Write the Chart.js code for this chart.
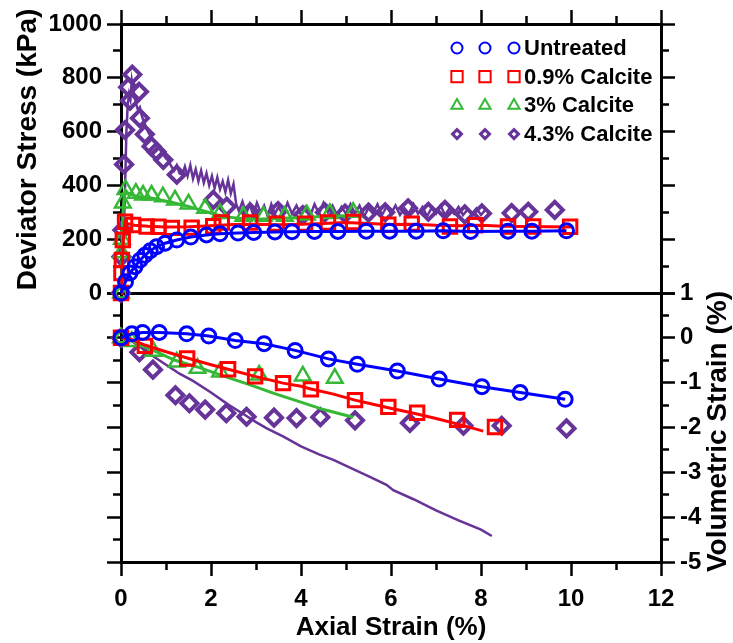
<!DOCTYPE html>
<html>
<head>
<meta charset="utf-8">
<script src="https://cdn.jsdelivr.net/npm/chart.js@4.4.1/dist/chart.umd.min.js"></script>
<style>
  html, body { margin: 0; padding: 0; background: #fff; }
  #wrap { width: 733px; height: 643px; position: relative; }
</style>
</head>
<body>
<div id="wrap"><canvas id="chart"></canvas></div>
<script>
// ---- series names and colours ----
const seriesNames = ['Untreated', '0.9% Calcite', '3% Calcite', '4.3% Calcite'];
const seriesColors = ['#0000FF', '#FF0000', '#35B835', '#663399'];

// ---- axis ticks ----
const strainMajorTicks = [0, 2, 4, 6, 8, 10, 12];
const strainMinorTicks = [1, 3, 5, 7, 9, 11];
const stressMajorTicks = [0, 200, 400, 600, 800, 1000];
const stressMinorTicks = [100, 300, 500, 700, 900];
const volMajorTicks = [-5, -4, -3, -2, -1, 0, 1];
const volMinorTicks = [-4.5, -3.5, -2.5, -1.5, -0.5, 0.5];

const axisTitles = { strain: 'Axial Strain (%)', stress: 'Deviator Stress (kPa)', vol: 'Volumetric Strain (%)' };

// ---- Untreated: [axial strain %, value] ----
const untreatedStress = [[0,0],[0.1,42],[0.2,74],[0.31,98],[0.42,122],[0.53,140],[0.65,157],[0.79,172],[0.98,185],[1.24,197],[1.55,208],[1.9,216],[2.2,220],[2.6,223],[2.95,225],[3.42,227],[3.8,228],[4.3,229],[4.82,229],[5.45,230],[5.97,230],[6.56,230],[7.16,231],[7.77,229],[8.6,230],[9.13,230],[9.9,231]];
const untreatedVol = [[0,0],[0.24,0.09],[0.48,0.12],[0.85,0.12],[1.46,0.09],[1.95,0.04],[2.54,-0.06],[3.18,-0.13],[3.87,-0.28],[4.61,-0.47],[5.25,-0.59],[6.14,-0.74],[7.07,-0.92],[8.02,-1.09],[8.87,-1.22],[9.87,-1.37]];

// ---- 0.9% Calcite ----
const calcite09StressCurve = [[0,0],[0.02,70],[0.04,150],[0.06,220],[0.09,265],[0.15,258],[0.3,252],[0.6,248],[1.0,245],[1.5,246],[2.0,250],[2.5,255],[3.0,256],[3.5,254],[4.0,256],[4.5,258],[5.0,262],[5.5,258],[6.0,255],[6.5,256],[7.0,252],[7.5,250],[8.0,252],[8.5,248],[9.0,247],[9.5,246],[10.0,245]];
const calcite09StressMarks = [[0,0],[0.01,74],[0.02,123],[0.04,197],[0.09,265],[0.27,253],[0.57,247],[0.83,246],[1.13,242],[1.57,243],[2.05,248],[2.24,262],[2.87,262],[3.46,258],[4.09,258],[4.6,262],[5.16,264],[5.94,254],[6.46,258],[7.31,247],[7.87,252],[8.6,247],[9.16,247],[9.98,246]];
const calcite09VolCurve = [[0,0],[0.25,-0.04],[0.53,-0.16],[1.0,-0.31],[1.47,-0.45],[2.0,-0.6],[2.38,-0.7],[2.98,-0.86],[3.6,-1.01],[4.0,-1.08],[4.22,-1.14],[4.7,-1.25],[5.2,-1.39],[5.6,-1.48],[5.94,-1.56],[6.58,-1.7],[7.0,-1.8],[7.47,-1.92],[8.05,-2.08]];
const calcite09VolMarks = [[0,0],[0.53,-0.18],[1.47,-0.46],[2.38,-0.7],[2.98,-0.86],[3.6,-1.01],[4.22,-1.15],[5.2,-1.39],[5.94,-1.54],[6.58,-1.67],[7.47,-1.83],[8.31,-1.99]];

// ---- 3% Calcite ----
const calcite3StressCurve = [[0,0],[0.02,150],[0.04,290],[0.07,360],[0.1,382],[0.15,372],[0.3,362],[0.5,356],[0.7,352],[0.9,345],[1.1,338],[1.3,330],[1.5,322],[1.7,312],[1.9,302],[2.1,292],[2.4,282],[2.7,276],[3.0,274],[3.3,276],[3.6,278],[3.9,280],[4.2,282],[4.5,285],[4.8,286],[5.16,288]];
const calcite3StressMarks = [[0,0],[0.01,150],[0.02,200],[0.04,335],[0.1,385],[0.33,371],[0.49,364],[0.68,364],[0.93,358],[1.2,346],[1.5,331],[1.87,315],[2.2,296],[2.72,285],[3.17,285],[3.64,285],[4.13,290],[4.64,296],[5.16,300]];
const calcite3VolCurve = [[0,0],[0.2,-0.04],[0.42,-0.16],[0.8,-0.32],[1.2,-0.5],[1.76,-0.67],[2.3,-0.86],[2.87,-1.05],[3.4,-1.24],[3.98,-1.43],[4.5,-1.6],[5.16,-1.77]];
const calcite3VolMarks = [[0,0],[0.24,-0.08],[0.72,-0.3],[1.24,-0.54],[1.7,-0.68],[2.2,-0.76],[3.07,-0.83],[4.04,-0.85],[4.75,-0.9]];

// ---- 4.3% Calcite ----
const calcite43StressCurve = [[0,0],[0.02,60],[0.04,140],[0.06,230],[0.08,330],[0.1,460],[0.12,600],[0.15,700],[0.18,740],[0.21,720],[0.24,790],[0.27,760],[0.3,730],[0.34,700],[0.38,680],[0.42,690],[0.46,660],[0.5,640],[0.55,620],[0.6,600],[0.65,585],[0.7,570],[0.76,560],[0.82,545],[0.88,530],[0.94,515],[1.0,500],[1.06,490],[1.12,470],[1.18,455],[1.24,475],[1.3,445],[1.36,440],[1.42,470],[1.48,435],[1.54,475],[1.6,425],[1.66,460],[1.72,415],[1.78,455],[1.84,410],[1.9,445],[1.96,400],[2.02,435],[2.08,390],[2.14,430],[2.2,385],[2.26,415],[2.32,375],[2.38,420],[2.44,370],[2.5,405],[2.56,330],[2.62,305],[2.7,340],[2.78,295],[2.86,330],[2.94,290],[3.02,335],[3.1,300],[3.18,325],[3.26,285],[3.34,330],[3.42,295],[3.5,320],[3.6,290],[3.7,335],[3.8,295],[3.9,325],[4.0,290],[4.1,320],[4.2,285],[4.3,330],[4.4,295],[4.5,335],[4.6,300],[4.7,325],[4.8,290],[4.9,320],[5.0,295],[5.1,330],[5.2,295],[5.3,325],[5.4,285],[5.5,315],[5.6,295],[5.7,330],[5.8,290],[5.9,320],[6.0,295],[6.1,325],[6.2,290],[6.3,315],[6.4,295],[6.5,330],[6.6,295],[6.7,320],[6.8,285],[6.9,315],[7.0,295],[7.1,325],[7.2,290],[7.3,315],[7.4,295],[7.5,320],[7.6,290],[7.7,310],[7.8,295],[7.9,315],[8.0,290],[8.1,310],[8.2,300]];
const calcite43StressMarks = [[0,0],[0.01,135],[0.03,234],[0.07,478],[0.09,606],[0.2,715],[0.16,765],[0.25,812],[0.4,748],[0.42,650],[0.53,590],[0.68,545],[0.79,525],[0.94,495],[1.24,440],[2.05,346],[2.35,321],[2.87,300],[3.49,305],[4.04,290],[4.53,300],[4.98,295],[5.5,299],[5.87,300],[6.38,315],[6.83,302],[7.2,309],[7.64,292],[8.02,296],[8.68,297],[9.05,302],[9.64,309]];
const calcite43VolCurve = [[0,0],[0.2,-0.05],[0.42,-0.2],[0.64,-0.36],[1.0,-0.6],[1.3,-0.8],[1.6,-0.96],[2.0,-1.22],[2.4,-1.5],[2.72,-1.7],[3.0,-1.88],[3.24,-2.02],[3.6,-2.2],[4.0,-2.42],[4.4,-2.6],[4.72,-2.72],[5.1,-2.9],[5.53,-3.1],[5.9,-3.28],[6.05,-3.4],[6.5,-3.6],[7.0,-3.85],[7.5,-4.07],[8.0,-4.28],[8.24,-4.42]];
const calcite43VolMarks = [[0,0],[0.41,-0.32],[0.71,-0.71],[1.21,-1.28],[1.52,-1.46],[1.87,-1.6],[2.34,-1.68],[2.79,-1.76],[3.4,-1.78],[3.9,-1.79],[4.43,-1.77],[5.2,-1.84],[6.42,-1.9],[7.61,-1.96],[8.46,-1.96],[9.9,-2.02]];

// ---- styling ----
const FONT = "'Liberation Sans', Arial, Helvetica, sans-serif";
const INK = '#000';
const CLEAR = 'rgba(0,0,0,0)';

const markerStyles = [
  { style: 'circle',   r: 7,   bw: 3,   legendR: 5.5, legendBw: 2 },
  { style: 'rect',     r: 9.5, bw: 3,   legendR: 8,   legendBw: 2 },
  { style: 'triangle', r: 9,   bw: 2.5, legendR: 6.5, legendBw: 2 },
  { style: 'rectRot',  r: 8,   bw: 4,   legendR: 4.5, legendBw: 3 }
];

const toXY = pairs => pairs.map(p => ({ x: p[0], y: p[1] }));

function curveSet(i, pairs, yAxisID, width) {
  return {
    label: seriesNames[i], data: toXY(pairs), xAxisID: 'x', yAxisID,
    borderColor: seriesColors[i], borderWidth: width, pointRadius: 0,
    fill: false, tension: 0, clip: false, showLine: true
  };
}
function markSet(i, pairs, yAxisID) {
  const m = markerStyles[i];
  return {
    label: seriesNames[i], data: toXY(pairs), xAxisID: 'x', yAxisID,
    showLine: false, pointStyle: m.style, pointRadius: m.r, pointBorderWidth: m.bw,
    pointBorderColor: seriesColors[i], pointBackgroundColor: CLEAR, clip: false
  };
}

// first entries draw on top
const datasets = [
  markSet(0, untreatedStress, 'yStress'), curveSet(0, untreatedStress, 'yStress', 3),
  markSet(0, untreatedVol, 'yVol'), curveSet(0, untreatedVol, 'yVol', 3),
  markSet(1, calcite09StressMarks, 'yStress'), curveSet(1, calcite09StressCurve, 'yStress', 3),
  markSet(1, calcite09VolMarks, 'yVol'), curveSet(1, calcite09VolCurve, 'yVol', 3),
  markSet(2, calcite3StressMarks, 'yStress'), curveSet(2, calcite3StressCurve, 'yStress', 3),
  markSet(2, calcite3VolMarks, 'yVol'), curveSet(2, calcite3VolCurve, 'yVol', 3),
  markSet(3, calcite43StressMarks, 'yStress'), curveSet(3, calcite43StressCurve, 'yStress', 2.5),
  markSet(3, calcite43VolMarks, 'yVol'), curveSet(3, calcite43VolCurve, 'yVol', 2.5)
];

// ---- axis frame helpers ----
const ticksAt = values => scale => { scale.ticks = values.map(v => ({ value: v })); };
const sizeTo = px => scale => { if (scale.isHorizontal()) scale.height = px; else scale.width = px; };
const tickFont = { family: FONT, size: 24, weight: 'bold' };

function frameAxis(o) {
  return {
    type: 'linear',
    display: true,
    position: o.position,
    stack: o.stack,
    stackWeight: 1,
    weight: o.weight,
    min: o.min,
    max: o.max,
    afterBuildTicks: ticksAt(o.values),
    afterFit: sizeTo(o.size),
    border: { display: o.border !== false, color: INK, width: 3 },
    grid: {
      drawOnChartArea: !!o.gridColor,
      color: o.gridColor || CLEAR,
      lineWidth: 3,
      drawTicks: true,
      tickLength: o.len,
      tickWidth: 2.5,
      tickColor: INK
    },
    ticks: o.labels
      ? { display: true, autoSkip: false, maxRotation: 0, minRotation: 0, padding: o.pad, color: INK, font: tickFont, callback: o.labels }
      : { display: false },
    title: o.title || { display: false }
  };
}

const asText = v => String(v);

const scales = {
  x: frameAxis({ position: 'bottom', weight: 1, min: 0, max: 12, values: strainMajorTicks, len: 14, size: 81, labels: asText, pad: 9,
    title: { display: true, text: axisTitles.strain, color: INK, font: { family: FONT, size: 26, weight: 'bold' }, padding: { top: 0, bottom: 0 } } }),
  xMinor: frameAxis({ position: 'bottom', weight: 0, min: 0, max: 12, values: strainMinorTicks, len: 8, size: 0, border: false }),
  xTop: frameAxis({ position: 'top', weight: 1, min: 0, max: 12, values: strainMajorTicks, len: 14, size: 24 }),
  xTopMinor: frameAxis({ position: 'top', weight: 0, min: 0, max: 12, values: strainMinorTicks, len: 8, size: 0, border: false }),

  yStress: frameAxis({ position: 'left', stack: 'L', weight: 2.1, min: 0, max: 1000, values: stressMajorTicks, len: 14, size: 121, labels: asText, pad: 5,
    gridColor: c => (c.tick && c.tick.value === 0 ? INK : CLEAR) }),
  yVolLeft: frameAxis({ position: 'left', stack: 'L', weight: 2.0, min: -5, max: 1, values: volMajorTicks, len: 14, size: 121 }),
  yStressMinor: frameAxis({ position: 'left', stack: 'Lm', weight: 1.1, min: 0, max: 1000, values: stressMinorTicks, len: 8, size: 0, border: false }),
  yVolLeftMinor: frameAxis({ position: 'left', stack: 'Lm', weight: 1.0, min: -5, max: 1, values: volMinorTicks, len: 8, size: 0, border: false }),

  yStressRight: frameAxis({ position: 'right', stack: 'R', weight: 2.0, min: 0, max: 1000, values: stressMajorTicks, len: 14, size: 72 }),
  yVol: frameAxis({ position: 'right', stack: 'R', weight: 2.1, min: -5, max: 1, values: volMajorTicks, len: 14, size: 72, labels: asText, pad: 5 }),
  yStressRightMinor: frameAxis({ position: 'right', stack: 'Rm', weight: 1.0, min: 0, max: 1000, values: stressMinorTicks, len: 8, size: 0, border: false }),
  yVolMinor: frameAxis({ position: 'right', stack: 'Rm', weight: 1.1, min: -5, max: 1, values: volMinorTicks, len: 8, size: 0, border: false })
};

// vertical titles, both read bottom-to-top
const sideTitles = {
  id: 'sideTitles',
  afterDraw(chart) {
    const { ctx } = chart;
    const up = chart.scales.yStress, low = chart.scales.yVol;
    ctx.save();
    ctx.fillStyle = INK;
    ctx.font = `bold 28px ${FONT}`;
    ctx.textAlign = 'center';
    ctx.textBaseline = 'middle';
    ctx.save();
    ctx.translate(up.left + 28, (up.top + up.bottom) / 2 - 9);
    ctx.rotate(-Math.PI / 2);
    ctx.fillText(axisTitles.stress, 0, 0);
    ctx.restore();
    ctx.save();
    ctx.translate(low.right - 15, (low.top + low.bottom) / 2 + 4);
    ctx.rotate(-Math.PI / 2);
    ctx.fillText(axisTitles.vol, 0, 0);
    ctx.restore();
    ctx.restore();
  }
};

// key with three symbols per series
const seriesKey = {
  id: 'seriesKey',
  afterDatasetsDraw(chart) {
    const { ctx, chartArea } = chart;
    const drawPoint = Chart.helpers.drawPoint;
    ctx.save();
    seriesNames.forEach((name, i) => {
      const m = markerStyles[i];
      const y = chartArea.top + 24 + i * 28.7;
      [336, 364, 393].forEach(dx => {
        ctx.strokeStyle = seriesColors[i];
        ctx.fillStyle = CLEAR;
        ctx.lineWidth = m.legendBw;
        drawPoint(ctx, { pointStyle: m.style, radius: m.legendR, rotation: 0, borderWidth: m.legendBw }, chartArea.left + dx, y);
      });
      ctx.fillStyle = INK;
      ctx.font = `bold 22px ${FONT}`;
      ctx.textAlign = 'left';
      ctx.textBaseline = 'middle';
      ctx.fillText(name, chartArea.left + 403, y + 1);
    });
    ctx.restore();
  }
};

new Chart(document.getElementById('chart'), {
  type: 'line',
  data: { datasets },
  options: {
    responsive: true,
    maintainAspectRatio: false,
    devicePixelRatio: 1,
    animation: false,
    layout: { padding: 0 },
    plugins: { legend: { display: false }, tooltip: { enabled: false } },
    scales
  },
  plugins: [seriesKey, sideTitles]
});
</script>
</body>
</html>
